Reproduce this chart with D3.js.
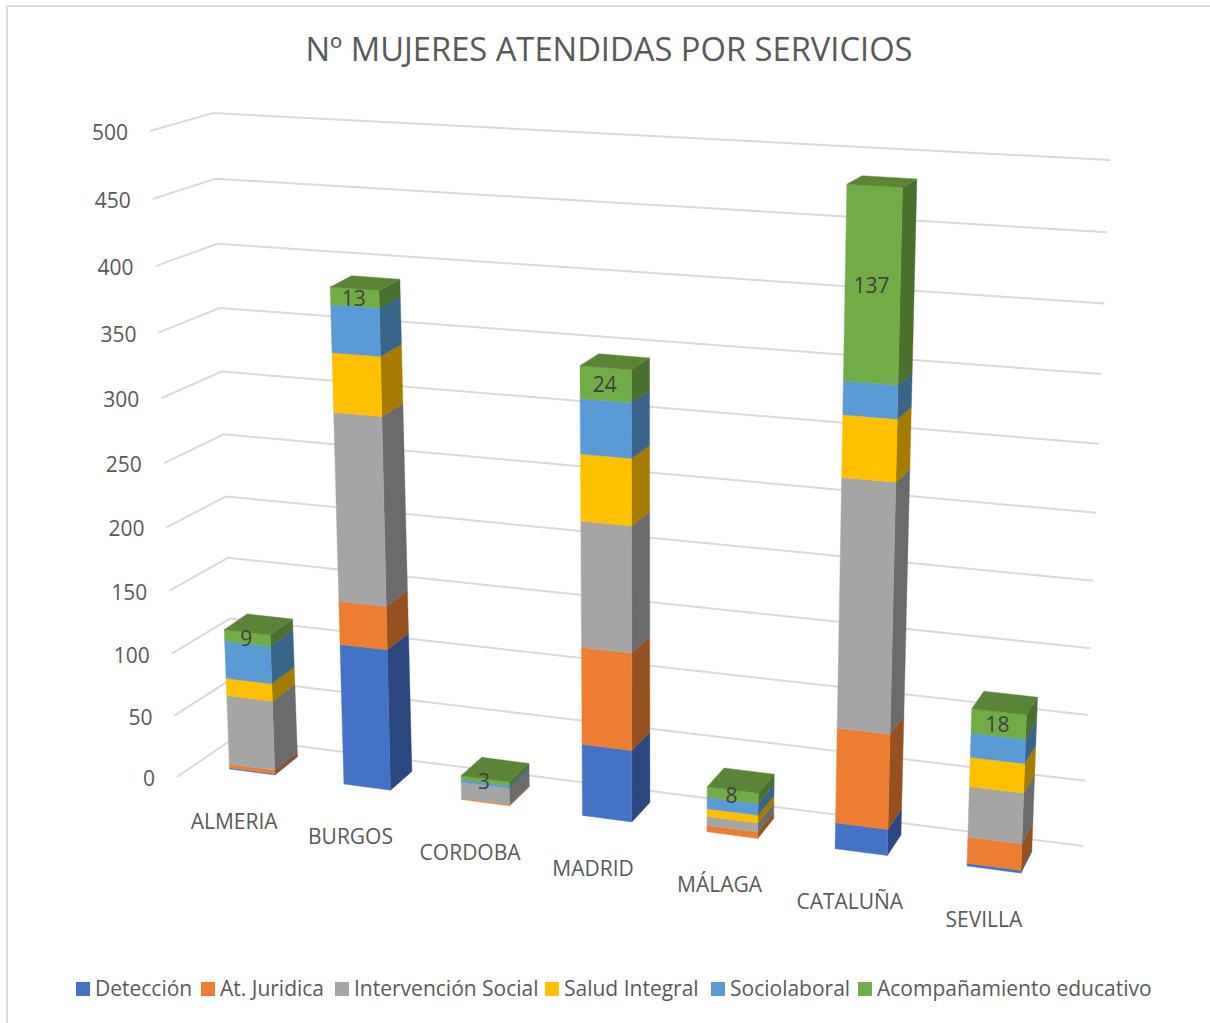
<!DOCTYPE html>
<html><head><meta charset="utf-8">
<script src="https://cdn.jsdelivr.net/npm/d3@7"></script>
<style>html,body{margin:0;padding:0;background:#fff}svg{display:block}text{font-family:"Open Sans",sans-serif;fill:#595959}</style>
</head><body><svg id="c" width="1210" height="1023"></svg>
<script>
const title = "Nº MUJERES ATENDIDAS POR SERVICIOS";
const categories = ["ALMERIA","BURGOS","CORDOBA","MADRID","MÁLAGA","CATALUÑA","SEVILLA"];
const seriesNames = ["Detección","At. Juridica","Intervención Social","Salud Integral","Sociolaboral","Acompañamiento educativo"];
const deteccion = [1,112,0,56,0,20,2];
const juridica = [3,34,1,75,5,72,20];
const intervencion = [56,146,13,96,7,185,38];
const salud = [14,45,0,50,6,45,22];
const sociolaboral = [30,36,2,41,9,24,18];
const acompanamiento = [9,13,3,24,8,137,18];
const seriesValues = [deteccion,juridica,intervencion,salud,sociolaboral,acompanamiento];
const ticks = [0,50,100,150,200,250,300,350,400,450,500];
const frontColors = ["#4472C4","#ED7D31","#A5A5A5","#FFC000","#5B9BD5","#70AD47"];
const sideColors = ["#2A4780","#975020","#6B6B6B","#A67C00","#3A658B","#4A702E"];
const topColor = "#5A8436";

// projective map of the unit square on a quad (p00, p10, p11, p01)
function quad(p00,p10,p11,p01){
  const [x0,y0]=p00,[x1,y1]=p10,[x2,y2]=p11,[x3,y3]=p01;
  const dx1=x1-x2,dx2=x3-x2,sx=x0-x1+x2-x3,dy1=y1-y2,dy2=y3-y2,sy=y0-y1+y2-y3;
  const den=dx1*dy2-dx2*dy1;
  const g=(sx*dy2-dx2*sy)/den,h=(dx1*sy-sx*dy1)/den;
  const a=x1-x0+g*x1,b=x3-x0+h*x3,d=y1-y0+g*y1,e=y3-y0+h*y3;
  return (u,v)=>{const w=g*u+h*v+1;return [(a*u+b*v+x0)/w,(d*u+e*v+y0)/w];};
}
const svg = d3.select("#c");
const catScale = d3.scaleLinear().domain([0,6]).range([0,1]);
const valScale = d3.scaleLinear().domain([0,500]).range([0,1]);
const barWidth = 0.40;
const frontH = quad([229.5,769],[967,866],[988,167],[205,125]);
const backH = quad([252.5,751],[979,845],[1001,159],[227,115]);
// the three vertical edges of the walls, with a slight perspective along the value axis
const k = -0.055;
const edge=(p0,p1)=>v=>{const q=valScale(v),f=q*(1+k)/(1+k*q);return [p0[0]+(p1[0]-p0[0])*f,p0[1]+(p1[1]-p0[1])*f];};
const L = edge([177,777],[150,131]);
const C = edge([234,738],[213,113]);
const R = edge([1083,846],[1110,160]);
const F=(t,v)=>frontH(catScale(t),valScale(v));
const B=(t,v)=>backH(catScale(t),valScale(v));

// frame: only the top and left edges fall inside the picture
svg.append("rect").attr("x",7).attr("y",6).attr("width",1230).attr("height",1040).attr("fill","#fff").attr("stroke","#DCDCDC").attr("stroke-width",2);
svg.append("text").attr("x",609).attr("y",61).attr("text-anchor","middle").attr("font-size",32.7).text(title);

// gridlines
const line=d3.line();
svg.append("g").selectAll("path").data(ticks).join("path")
  .attr("d",v=>line([L(v),C(v),R(v)]))
  .attr("fill","none").attr("stroke","#D9D9D9").attr("stroke-width",2);
// tick labels
svg.append("g").selectAll("text").data(ticks).join("text")
  .attr("x",v=>L(v)[0]-22).attr("y",v=>L(v)[1]+9)
  .attr("text-anchor","end").attr("font-size",21).text(d=>d);

// bars
const poly=pts=>"M"+pts.map(p=>p.join(",")).join("L")+"Z";
categories.forEach((c,i)=>{
  const g=svg.append("g");
  let base=0;
  const segs=seriesValues.map((s,k)=>{const o={k,v0:base,v1:base+s[i]};base+=s[i];return o;}).filter(o=>o.v1>o.v0);
  g.selectAll(".side").data(segs).join("path").attr("class","side")
   .attr("d",o=>poly([F(i+barWidth,o.v0),B(i+barWidth,o.v0),B(i+barWidth,o.v1),F(i+barWidth,o.v1)]))
   .attr("fill",o=>sideColors[o.k]).attr("stroke",o=>sideColors[o.k]).attr("stroke-width",.4);
  g.selectAll(".front").data(segs).join("path").attr("class","front")
   .attr("d",o=>poly([F(i,o.v0),F(i+barWidth,o.v0),F(i+barWidth,o.v1),F(i,o.v1)]))
   .attr("fill",o=>frontColors[o.k]).attr("stroke",o=>frontColors[o.k]).attr("stroke-width",.4);
  g.append("path").attr("d",poly([F(i,base),F(i+barWidth,base),B(i+barWidth,base),B(i,base)]))
   .attr("fill",topColor).attr("stroke",topColor).attr("stroke-width",.4);
  const top=acompanamiento[i];
  const lp=F(i+barWidth/2,base-top/2);
  svg.append("text").attr("x",lp[0]-1).attr("y",lp[1]+8).attr("text-anchor","middle").attr("font-size",21).attr("style","fill:#404040").text(top);
  const bp=F(i+barWidth/2,0);
  svg.append("text").attr("x",bp[0]-18+8*catScale(i)).attr("y",bp[1]+57).attr("text-anchor","middle").attr("font-size",21).text(c);
});

// legend
const legendX=[76,201,335,545,711,858];
const lg=svg.append("g").selectAll("g").data(seriesNames).join("g").attr("transform",(d,i)=>`translate(${legendX[i]},982)`);
lg.append("rect").attr("width",14).attr("height",14).attr("fill",(d,i)=>frontColors[i]);
lg.append("text").attr("x",19).attr("y",14).attr("font-size",21).text(d=>d);
</script></body></html>
